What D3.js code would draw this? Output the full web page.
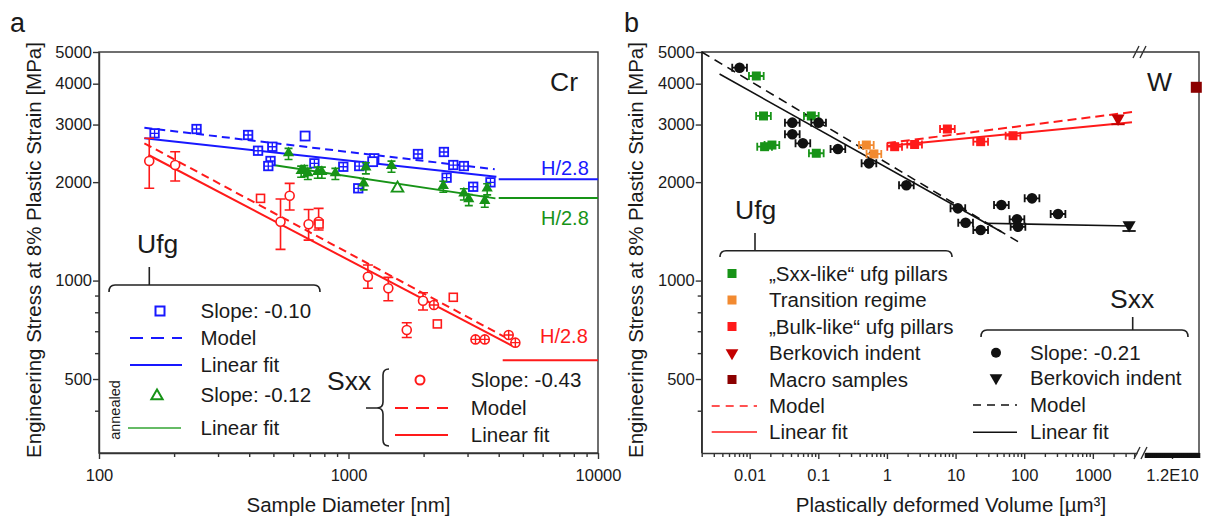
<!DOCTYPE html>
<html>
<head>
<meta charset="utf-8">
<script src="https://cdn.jsdelivr.net/npm/d3@7"></script>
<style>
  body { margin: 0; background: #fff; }
  text { font-family: "Liberation Sans", Arial, sans-serif; fill: #1a1a1a; }
</style>
</head>
<body>
<svg id="chart" width="1207" height="517"></svg>
<script>
// ---------- panel a (Cr): stress [MPa] vs sample diameter [nm] ----------
const ufgBlue = [[167,2820],[246,2907],[396,2787],[434,2495],[495,2566],[487,2321],[477,2240],
  [730,2283],[953,2229],[1104,2240],[1094,1915],[1268,2365],[1899,2438],[2412,2473],
  [2630,2256],[2900,2240],[2473,2064],[3160,1936],[3707,1997]];
const ufgBlueOpen = [[670,2767],[1250,2310]];
const annGreen = [[575,2439],[646,2152],[665,2160],[687,2118],[753,2137],[782,2137],[886,2118],
  [1174,2204],[1150,1969],[1487,2229],[2399,1936],[2900,1835],[3035,1763],[3517,1742],[3596,1901]];
const annGreenOpen = [[1572,1915]];
// [diameter, stress, low, high]
const sxxCircles = [[159,2321,1915,2723],[202,2256,2016,2478],[581,1817,1644,1983],
  [534,1513,1246,1776],[692,1487,1330,1650],[759,1513,1428,1663],[1196,1027,947,1116],
  [1444,947,868,1023],[1712,706,670,743],[1989,868,813,918]];
const sxxSquares = [[444,1784],[762,1489],[2630,889],[2270,737]];
const sxxCrossed = [[2200,842],[3228,661],[3517,661],[4385,682],[4664,646]];

const blueFit = [[152,2723],[3915,2078]];
const blueModel = [[152,2934],[3855,2189]];
const greenFit = [[498,2256],[3880,1784]];
const redFit = [[158,2421],[4592,628]];
const redModel = [[152,2629],[4453,658]];
// H/2.8 levels, drawn from the start diameter to 10000 nm
const hardnessA = [{start: 4000, v: 2040, c: "blue"}, {start: 4000, v: 1790, c: "green"}, {start: 4150, v: 571, c: "red"}];
const annErr = 1.04;   // relative error bar of annealed pillars

// ---------- panel b (W): stress [MPa] vs plastically deformed volume [µm³] ----------
const sxxPillars = [[0.00713,4476],[0.0418,3040],[0.101,3040],[0.0418,2801],[0.0596,2629],
  [0.193,2525],[0.547,2283],[1.92,1956],[10.8,1663],[14.0,1503],[23.2,1428],[46.5,1702],
  [130,1784],[78.5,1539],[81.2,1461],[311,1598]];
const sxxIndent = [[3373,1479]];
const sxxLike = [[0.0125,4223],[0.0159,3187],[0.0165,2567],[0.0211,2597],[0.0791,3187],[0.0935,2451]];
const transition = [[0.501,2597],[0.646,2439]];
const bulkLike = [[1.295,2567],[2.53,2607],[7.6,2907],[23.2,2659],[68.7,2773]];
const bulkIndent = [[2330,3135]];
const macro = [[1.38e10,3900]];
const bulkFit = [[1.0,2579],[3718,3047]];
const bulkModel = [[1.0,2634],[3846,3279]];
const sxxFit = [[0.00364,4281],[46.5,1411]];
const sxxFitFlat = [[26.5,1497],[3450,1468]];
const sxxModel = [[0.002,5000],[81.2,1315]];
const volErr = 1.28;   // horizontal error factor

// ticks
const yMajor = [500,1000,2000,3000,4000,5000];
const yMinor = [400,600,700,800,900];
const xMajorA = [100,1000,10000];
const xMinorA = [200,300,400,500,600,700,800,900,2000,3000,4000,5000,6000,7000,8000,9000];
const xMajorB = [0.01,0.1,1,10,100,1000];
const xMajorBLabels = ["0.01","0.1","1","10","100","1000"];
const xMinorB = [0.002,0.003,0.004,0.005,0.006,0.007,0.008,0.009,0.02,0.03,0.04,0.05,0.06,0.07,0.08,0.09,
  0.2,0.3,0.4,0.5,0.6,0.7,0.8,0.9,2,3,4,5,6,7,8,9,20,30,40,50,60,70,80,90,200,300,400,500,600,700,800,900,2000,3000,4000];
const xBreakMajor = [1.2e10];
const xBreakMinor = d3.range(200, 281).map(k => k * 5e7);

const BLUE = "#1818ff", GREEN = "#179317", LGREEN = "#66bb66", RED = "#ff1a1a",
      ORANGE = "#f28a30", DKRED = "#8b0000", BERK = "#c40000", AX = "#333";
const colorOf = {blue: BLUE, green: GREEN, red: RED};

const svg = d3.select("#chart");

const yA = d3.scaleLog().domain([297, 5000]).range([453, 52]);
const xA = d3.scaleLog().domain([100, 10000]).range([99, 598]);
const yB = yA.copy();
const xB = d3.scaleLog().domain([0.002, 4400]).range([701.7, 1137]);
const xB2 = d3.scaleLinear().domain([1.0e10, 1.4e10]).range([1145, 1199]);

function styleAxis(g) {
  g.attr("font-size", 16.5).attr("font-family", null);
  g.selectAll("g").attr("font-size", 16.5).attr("font-family", null);
  g.selectAll("line, path").attr("stroke", AX).attr("stroke-width", 1.4);
  g.selectAll("text").attr("fill", "#1a1a1a");
}

function yAxis(x0) {
  const g = svg.append("g").attr("transform", `translate(${x0},0)`);
  g.call(d3.axisLeft(yA).tickValues(yMajor).tickFormat(d3.format("d")).tickSize(6).tickSizeOuter(0).tickPadding(1));
  g.append("g").call(d3.axisLeft(yA).tickValues(yMinor).tickFormat("").tickSize(4).tickSizeOuter(0))
    .select(".domain").remove();
  styleAxis(g);
}

function line(pts, x, y, color, w, dash) {
  svg.append("path").attr("d", d3.line().x(d => x(d[0])).y(d => y(d[1]))(pts))
    .attr("fill", "none").attr("stroke", color).attr("stroke-width", w)
    .attr("stroke-dasharray", dash || null);
}

function text(x, y, s, size, opt = {}) {
  const t = svg.append("text").attr("x", x).attr("y", y).attr("font-size", size).text(s);
  if (opt.fill) t.style("fill", opt.fill);
  if (opt.anchor) t.attr("text-anchor", opt.anchor);
  if (opt.mid) t.attr("dy", "0.35em");
  if (opt.rotate) t.attr("transform", `rotate(-90,${x},${y})`);
  return t;
}

// ================= PANEL A =================
svg.append("rect").attr("x", 99).attr("y", 52).attr("width", 499).attr("height", 401)
  .attr("fill", "none").attr("stroke", AX).attr("stroke-width", 1.4);
yAxis(99);
{
  const g = svg.append("g").attr("transform", "translate(0,453)");
  g.call(d3.axisBottom(xA).tickValues(xMajorA).tickFormat(d3.format("d")).tickSize(6).tickSizeOuter(0).tickPadding(10));
  g.append("g").call(d3.axisBottom(xA).tickValues(xMinorA).tickFormat("").tickSize(4).tickSizeOuter(0))
    .select(".domain").remove();
  styleAxis(g);
}

// H/2.8 levels
hardnessA.forEach(h => line([[h.start, h.v], [10000, h.v]], xA, yA, colorOf[h.c], 2));

// fits
line(blueModel, xA, yA, BLUE, 2, "8,5");
line(blueFit, xA, yA, BLUE, 2);
line(greenFit, xA, yA, GREEN, 2);
line(redModel, xA, yA, RED, 2, "8,5");
line(redFit, xA, yA, RED, 2);

// blue ufg squares
function crossSquares(data, x, y, color, s, cross) {
  const m = svg.append("g").selectAll("g").data(data).join("g")
    .attr("transform", d => `translate(${x(d[0])},${y(d[1])})`);
  m.append("rect").attr("x", -s / 2).attr("y", -s / 2).attr("width", s).attr("height", s)
    .attr("fill", "#fff").attr("stroke", color).attr("stroke-width", 1.8);
  if (cross) m.append("path").attr("d", `M${-s / 2},0H${s / 2}M0,${-s / 2}V${s / 2}`)
    .attr("stroke", color).attr("stroke-width", 1.3);
}
crossSquares(ufgBlue, xA, yA, BLUE, 8.5, true);
crossSquares(ufgBlueOpen, xA, yA, BLUE, 9, false);

// green annealed triangles with error bars
{
  const g = svg.append("g");
  g.selectAll("path.e").data(annGreen).join("path").attr("class", "e")
    .attr("d", d => {
      const x = xA(d[0]), lo = yA(d[1] / annErr), hi = yA(d[1] * annErr);
      return `M${x},${hi}V${lo}M${x - 4},${lo}h8M${x - 4},${hi}h8`;
    })
    .attr("stroke", GREEN).attr("stroke-width", 1.6).attr("fill", "none");
  g.selectAll("path.m").data(annGreen).join("path").attr("class", "m")
    .attr("transform", d => `translate(${xA(d[0])},${yA(d[1]) - 1})`)
    .attr("d", d3.symbol(d3.symbolTriangle, 55)).attr("fill", GREEN);
  g.selectAll("path.o").data(annGreenOpen).join("path").attr("class", "o")
    .attr("transform", d => `translate(${xA(d[0])},${yA(d[1])})`)
    .attr("d", d3.symbol(d3.symbolTriangle, 60)).attr("fill", "#fff").attr("stroke", GREEN).attr("stroke-width", 1.8);
}

// red Sxx circles with error bars, squares, crossed circles
{
  const g = svg.append("g");
  g.selectAll("path.e").data(sxxCircles).join("path").attr("class", "e")
    .attr("d", d => {
      const x = xA(d[0]), lo = yA(d[2]), hi = yA(d[3]);
      return `M${x},${hi}V${lo}M${x - 5},${lo}h10M${x - 5},${hi}h10`;
    })
    .attr("stroke", RED).attr("stroke-width", 1.6).attr("fill", "none");
  g.selectAll("circle.c").data(sxxCircles).join("circle").attr("class", "c")
    .attr("cx", d => xA(d[0])).attr("cy", d => yA(d[1])).attr("r", 4.5)
    .attr("fill", "#fff").attr("stroke", RED).attr("stroke-width", 1.6);
  g.selectAll("rect").data(sxxSquares).join("rect")
    .attr("x", d => xA(d[0]) - 4).attr("y", d => yA(d[1]) - 4).attr("width", 8).attr("height", 8)
    .attr("fill", "#fff").attr("stroke", RED).attr("stroke-width", 1.6);
  const c = g.selectAll("g").data(sxxCrossed).join("g")
    .attr("transform", d => `translate(${xA(d[0])},${yA(d[1])})`);
  c.append("circle").attr("r", 4.5).attr("fill", "#fff").attr("stroke", RED).attr("stroke-width", 1.6);
  c.append("path").attr("d", "M-4.5,0H4.5M0,-4.5V4.5").attr("stroke", RED).attr("stroke-width", 1.4);
}

// labels panel a
text(10, 32, "a", 27);
text(550, 91, "Cr", 26.5);
text(541, 175, "H/2.8", 20, {fill: BLUE});
text(541, 225, "H/2.8", 20, {fill: GREEN});
text(540, 343, "H/2.8", 20, {fill: RED});
text(34, 250, "Engineering Stress at 8% Plastic Strain [MPa]", 20.5, {anchor: "middle", rotate: true, mid: true});
text(348.5, 512, "Sample Diameter [nm]", 20.5, {anchor: "middle"});

// legend panel a
const legA = ["Slope: -0.10", "Model", "Linear fit", "Slope: -0.12", "Linear fit"];
const legARows = [311, 338, 365, 395, 428];
const legB = ["Slope: -0.43", "Model", "Linear fit"];
const legBRows = [380, 408, 435];
text(137, 253, "Ufg", 26.5);
svg.append("path").attr("d", "M109,292Q109,285 115,285H314Q320,285 320,292M149.3,285V267")
  .attr("fill", "none").attr("stroke", "#222").attr("stroke-width", 1.6);
legA.forEach((s, i) => text(200.5, legARows[i], s, 20.5, {mid: true}));
svg.append("rect").attr("x", 155.5).attr("y", 306.5).attr("width", 9).attr("height", 9)
  .attr("fill", "#fff").attr("stroke", BLUE).attr("stroke-width", 2);
svg.append("path").attr("d", `M130,338H182`).attr("stroke", BLUE).attr("stroke-width", 2).attr("stroke-dasharray", "13,8");
svg.append("path").attr("d", `M130,365H182`).attr("stroke", BLUE).attr("stroke-width", 2);
svg.append("path").attr("transform", "translate(157,396)").attr("d", d3.symbol(d3.symbolTriangle, 55))
  .attr("fill", "#fff").attr("stroke", GREEN).attr("stroke-width", 2);
svg.append("path").attr("d", `M128,428H181`).attr("stroke", LGREEN).attr("stroke-width", 2);
text(115, 410, "annealed", 14.5, {anchor: "middle", rotate: true, mid: true});

text(327, 390, "Sxx", 26.5);
svg.append("path").attr("d", "M389,369Q383,369 383,375V402Q383,408 377,408H366M377,408Q383,408 383,414V440Q383,446 389,446")
  .attr("fill", "none").attr("stroke", "#222").attr("stroke-width", 1.6);
legB.forEach((s, i) => text(470.8, legBRows[i], s, 20.5, {mid: true}));
svg.append("circle").attr("cx", 420).attr("cy", 380).attr("r", 4.5).attr("fill", "#fff").attr("stroke", RED).attr("stroke-width", 2);
svg.append("path").attr("d", "M395,408H448").attr("stroke", RED).attr("stroke-width", 2).attr("stroke-dasharray", "13,8");
svg.append("path").attr("d", "M395,435H448").attr("stroke", RED).attr("stroke-width", 2);

// ================= PANEL B =================
svg.append("path").attr("d", "M701.7,453V52H1199V453")
  .attr("fill", "none").attr("stroke", AX).attr("stroke-width", 1.4);
yAxis(701.7);
{
  const g = svg.append("g").attr("transform", "translate(0,453)");
  g.call(d3.axisBottom(xB).tickValues(xMajorB).tickFormat((d, i) => xMajorBLabels[i]).tickSize(6).tickSizeOuter(0).tickPadding(10));
  g.append("g").call(d3.axisBottom(xB).tickValues(xMinorB).tickFormat("").tickSize(4).tickSizeOuter(0))
    .select(".domain").remove();
  const g2 = g.append("g");
  g2.call(d3.axisBottom(xB2).tickValues(xBreakMajor).tickFormat(() => "1.2E10").tickSize(6).tickSizeOuter(0).tickPadding(10));
  const dense = g2.append("g").call(d3.axisBottom(xB2).tickValues(xBreakMinor).tickFormat("").tickSize(5).tickSizeOuter(0));
  dense.select(".domain").remove();
  styleAxis(g);
  dense.selectAll("line").attr("stroke", "#111").attr("stroke-width", 1.6);
  // axis break marks
  g.append("path").attr("d", "M1134,6L1140,-6M1141,6L1147,-6").attr("stroke", AX).attr("stroke-width", 1.4).attr("fill", "none");
}
svg.append("rect").attr("x", 1136).attr("y", 47).attr("width", 9).attr("height", 10).attr("fill", "#fff");
svg.append("path").attr("d", "M1133,58L1139,46M1140,58L1146,46M1136,52H1145").attr("stroke", AX).attr("stroke-width", 1.4).attr("fill", "none");

// fits
line(bulkModel, xB, yB, RED, 2, "9,5");
line(bulkFit, xB, yB, RED, 2);
line(sxxModel, xB, yB, "#111", 1.6, "9,6");
line(sxxFit, xB, yB, "#111", 1.6);
line(sxxFitFlat, xB, yB, "#111", 1.6);

function errMarks(data, color, shape) {
  const g = svg.append("g");
  g.selectAll("path.e").data(data).join("path").attr("class", "e")
    .attr("d", d => {
      const y = yB(d[1]), l = xB(d[0] / volErr), r = xB(d[0] * volErr);
      return `M${l},${y}H${r}M${l},${y - 4}v8M${r},${y - 4}v8`;
    })
    .attr("stroke", color).attr("stroke-width", 1.8).attr("fill", "none");
  if (shape === "circle") {
    g.selectAll("circle").data(data).join("circle")
      .attr("cx", d => xB(d[0])).attr("cy", d => yB(d[1])).attr("r", 5.3).attr("fill", color);
  } else {
    g.selectAll("rect").data(data).join("rect")
      .attr("x", d => xB(d[0]) - 4.5).attr("y", d => yB(d[1]) - 4.5).attr("width", 9).attr("height", 9).attr("fill", color);
  }
}
errMarks(sxxLike, GREEN, "square");
errMarks(transition, ORANGE, "square");
errMarks(bulkLike, RED, "square");
errMarks(sxxPillars, "#111", "circle");

function downTri(data, x, color, size) {
  svg.append("g").selectAll("path").data(data).join("path")
    .attr("transform", d => `translate(${x(d[0])},${yB(d[1])}) rotate(180)`)
    .attr("d", d3.symbol(d3.symbolTriangle, size)).attr("fill", color);
}
downTri(bulkIndent, xB, BERK, 75);
downTri(sxxIndent, xB, "#111", 75);
svg.append("g").selectAll("path").data(sxxIndent.concat(bulkIndent)).join("path")
  .attr("d", d => `M${xB(d[0] / 1.25)},${yB(d[1]) + 6}H${xB(d[0] * 1.25)}`)
  .attr("stroke", (d, i) => i === 0 ? "#111" : BERK).attr("stroke-width", 1.8);
svg.append("g").selectAll("rect").data(macro).join("rect")
  .attr("x", d => xB2(d[0]) - 5.5).attr("y", d => yB(d[1]) - 5.5).attr("width", 11).attr("height", 11).attr("fill", DKRED);

// labels panel b
text(624, 32, "b", 27);
text(1147, 91, "W", 26.5);
text(636, 250, "Engineering Stress at 8% Plastic Strain [MPa]", 20.5, {anchor: "middle", rotate: true, mid: true});
text(951, 512, "Plastically deformed Volume [µm³]", 20.5, {anchor: "middle"});

// legend panel b (ufg)
const legUfg = ["\u201eSxx-like\u201c ufg pillars", "Transition regime", "\u201eBulk-like\u201c ufg pillars",
  "Berkovich indent", "Macro samples", "Model", "Linear fit"];
const legUfgRows = [273.5, 300, 326.5, 353, 379.5, 406, 432];
text(735, 219, "Ufg", 26.5);
svg.append("path").attr("d", "M720,257Q720,250.7 726,250.7H946Q952,250.7 952,257M755,250.7V233")
  .attr("fill", "none").attr("stroke", "#222").attr("stroke-width", 1.6);
legUfg.forEach((s, i) => text(769, legUfgRows[i], s, 20.5, {mid: true}));
[GREEN, ORANGE, RED].forEach((c, i) => svg.append("rect").attr("x", 727.5).attr("y", legUfgRows[i] - 4.5)
  .attr("width", 9).attr("height", 9).attr("fill", c));
svg.append("path").attr("transform", `translate(732,${legUfgRows[3]}) rotate(180)`)
  .attr("d", d3.symbol(d3.symbolTriangle, 70)).attr("fill", BERK);
svg.append("rect").attr("x", 727.5).attr("y", legUfgRows[4] - 4.5).attr("width", 9).attr("height", 9).attr("fill", DKRED);
svg.append("path").attr("d", `M711.7,${legUfgRows[5]}H757`).attr("stroke", RED).attr("stroke-width", 1.6).attr("stroke-dasharray", "8,6");
svg.append("path").attr("d", `M711.7,${legUfgRows[6]}H757`).attr("stroke", RED).attr("stroke-width", 1.6);

// legend panel b (Sxx)
const legSxx = ["Slope: -0.21", "Berkovich indent", "Model", "Linear fit"];
const legSxxRows = [352.7, 378, 405, 432.3];
text(1110, 308, "Sxx", 26.5);
svg.append("path").attr("d", "M981,337Q981,330 987,330H1182Q1188,330 1188,337M1132.7,330V317")
  .attr("fill", "none").attr("stroke", "#222").attr("stroke-width", 1.6);
legSxx.forEach((s, i) => text(1030, legSxxRows[i], s, 20.5, {mid: true}));
svg.append("circle").attr("cx", 996).attr("cy", legSxxRows[0]).attr("r", 5).attr("fill", "#111");
svg.append("path").attr("transform", `translate(996,${legSxxRows[1]}) rotate(180)`)
  .attr("d", d3.symbol(d3.symbolTriangle, 70)).attr("fill", "#111");
svg.append("path").attr("d", `M973,${legSxxRows[2]}H1017`).attr("stroke", "#111").attr("stroke-width", 1.6).attr("stroke-dasharray", "8,6");
svg.append("path").attr("d", `M973,${legSxxRows[3]}H1017`).attr("stroke", "#111").attr("stroke-width", 1.6);
</script>
</body>
</html>
